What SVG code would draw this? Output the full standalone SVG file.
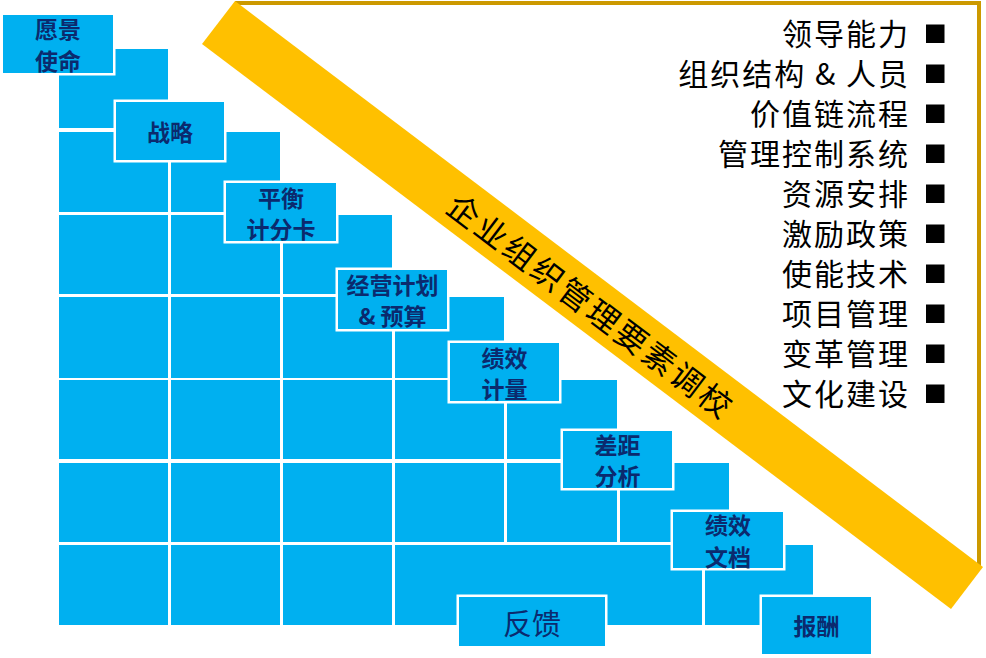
<svg xmlns="http://www.w3.org/2000/svg" width="986" height="658" viewBox="0 0 986 658">
  <style>
    .cell { fill: #00B0F0; }
    .box { fill: #00B0F0; stroke: #FFFFFF; stroke-width: 2.5; }
    .lbl { font-family: "Noto Sans CJK SC", "Liberation Sans", sans-serif; font-size: 23px; font-weight: bold; fill: #0B2A6E; text-anchor: middle; dominant-baseline: central; }
    .big { font-size: 29px; font-weight: normal; }
    .item { font-family: "Noto Sans CJK SC", "Liberation Sans", sans-serif; font-size: 30px; fill: #000000; text-anchor: end; dominant-baseline: central; letter-spacing: 2px; }
    .band { font-family: "Noto Sans CJK SC", "Liberation Sans", sans-serif; font-size: 32px; fill: #000000; text-anchor: middle; dominant-baseline: central; letter-spacing: 3px; }
    .sq { fill: #000000; }
  </style>
  <rect width="986" height="658" fill="#FFFFFF"/>

  <g id="frame">
    <polyline points="235,3 979,3 979,567" fill="none" stroke="#CC9900" stroke-width="4"/>
    <polygon points="235,1 983,567 951,609 202,44" fill="#FFC000"/>
    <text class="band" x="592" y="305" transform="rotate(37.07 592 305)">企业组织管理要素调校</text>
  </g>

  <g id="grid">
    <rect class="cell" x="59" y="49" width="109" height="79"/>
    <rect class="cell" x="59" y="132" width="109" height="80"/>
    <rect class="cell" x="171" y="132" width="109" height="80"/>
    <rect class="cell" x="59" y="215" width="109" height="79"/>
    <rect class="cell" x="171" y="215" width="109" height="79"/>
    <rect class="cell" x="283" y="215" width="109" height="79"/>
    <rect class="cell" x="59" y="297" width="109" height="81"/>
    <rect class="cell" x="171" y="297" width="109" height="81"/>
    <rect class="cell" x="283" y="297" width="109" height="81"/>
    <rect class="cell" x="395" y="297" width="109" height="81"/>
    <rect class="cell" x="59" y="380" width="109" height="79"/>
    <rect class="cell" x="171" y="380" width="109" height="79"/>
    <rect class="cell" x="283" y="380" width="109" height="79"/>
    <rect class="cell" x="395" y="380" width="109" height="79"/>
    <rect class="cell" x="507" y="380" width="110" height="79"/>
    <rect class="cell" x="59" y="463" width="109" height="79"/>
    <rect class="cell" x="171" y="463" width="109" height="79"/>
    <rect class="cell" x="283" y="463" width="109" height="79"/>
    <rect class="cell" x="395" y="463" width="109" height="79"/>
    <rect class="cell" x="507" y="463" width="110" height="79"/>
    <rect class="cell" x="620" y="463" width="109" height="79"/>
    <rect class="cell" x="59" y="545" width="109" height="80"/>
    <rect class="cell" x="171" y="545" width="109" height="80"/>
    <rect class="cell" x="283" y="545" width="109" height="80"/>
    <rect class="cell" x="395" y="545" width="307" height="80"/>
    <rect class="cell" x="705" y="545" width="108" height="80"/>
  </g>

  <g id="n-vision">
    <rect class="box" x="1.75" y="13.75" width="112.5" height="60.5"/>
    <text class="lbl" x="58" y="28">愿景</text>
    <text class="lbl" x="58" y="59.5">使命</text>
  </g>
  <g id="n-strategy">
    <rect class="box" x="114.75" y="100.75" width="110.5" height="60.5"/>
    <text class="lbl" x="170" y="131">战略</text>
  </g>
  <g id="n-bsc">
    <rect class="box" x="224.75" y="181.75" width="112.5" height="60.5"/>
    <text class="lbl" x="281" y="196.5">平衡</text>
    <text class="lbl" x="281" y="227.5">计分卡</text>
  </g>
  <g id="n-plan">
    <rect class="box" x="336.75" y="268.75" width="111.5" height="61.5"/>
    <text class="lbl" x="392.5" y="283.5">经营计划</text>
    <text class="lbl" x="392.5" y="314.5">&amp; 预算</text>
  </g>
  <g id="n-measure">
    <rect class="box" x="448.75" y="341.75" width="111.5" height="60.5"/>
    <text class="lbl" x="504.5" y="356.5">绩效</text>
    <text class="lbl" x="504.5" y="387.5">计量</text>
  </g>
  <g id="n-gap">
    <rect class="box" x="561.75" y="429.75" width="111.5" height="59.5"/>
    <text class="lbl" x="617.5" y="443.5">差距</text>
    <text class="lbl" x="617.5" y="474.5">分析</text>
  </g>
  <g id="n-doc">
    <rect class="box" x="671.75" y="510.75" width="112.5" height="58.5"/>
    <text class="lbl" x="728" y="524">绩效</text>
    <text class="lbl" x="728" y="556">文档</text>
  </g>
  <g id="n-feedback">
    <rect class="box" x="457.75" y="595.75" width="148.5" height="51.5"/>
    <text class="lbl big" x="532" y="622">反馈</text>
  </g>
  <g id="n-reward">
    <rect class="box" x="760.75" y="595.75" width="111.5" height="59.5"/>
    <text class="lbl" x="816.5" y="624.5">报酬</text>
  </g>

  <g id="list">
    <text class="item" x="910" y="31.5">领导能力</text>
    <text class="item" x="910" y="71.5">组织结构 &amp; 人员</text>
    <text class="item" x="910" y="111.5">价值链流程</text>
    <text class="item" x="910" y="151.5">管理控制系统</text>
    <text class="item" x="910" y="191.5">资源安排</text>
    <text class="item" x="910" y="231.5">激励政策</text>
    <text class="item" x="910" y="271.5">使能技术</text>
    <text class="item" x="910" y="311.5">项目管理</text>
    <text class="item" x="910" y="351.5">变革管理</text>
    <text class="item" x="910" y="391.5">文化建设</text>
    <rect class="sq" x="926" y="24.5" width="18.5" height="18.5"/>
    <rect class="sq" x="926" y="64.5" width="18.5" height="18.5"/>
    <rect class="sq" x="926" y="104.5" width="18.5" height="18.5"/>
    <rect class="sq" x="926" y="144.5" width="18.5" height="18.5"/>
    <rect class="sq" x="926" y="184.5" width="18.5" height="18.5"/>
    <rect class="sq" x="926" y="224.5" width="18.5" height="18.5"/>
    <rect class="sq" x="926" y="264.5" width="18.5" height="18.5"/>
    <rect class="sq" x="926" y="304.5" width="18.5" height="18.5"/>
    <rect class="sq" x="926" y="344.5" width="18.5" height="18.5"/>
    <rect class="sq" x="926" y="384.5" width="18.5" height="18.5"/>
  </g>
</svg>
